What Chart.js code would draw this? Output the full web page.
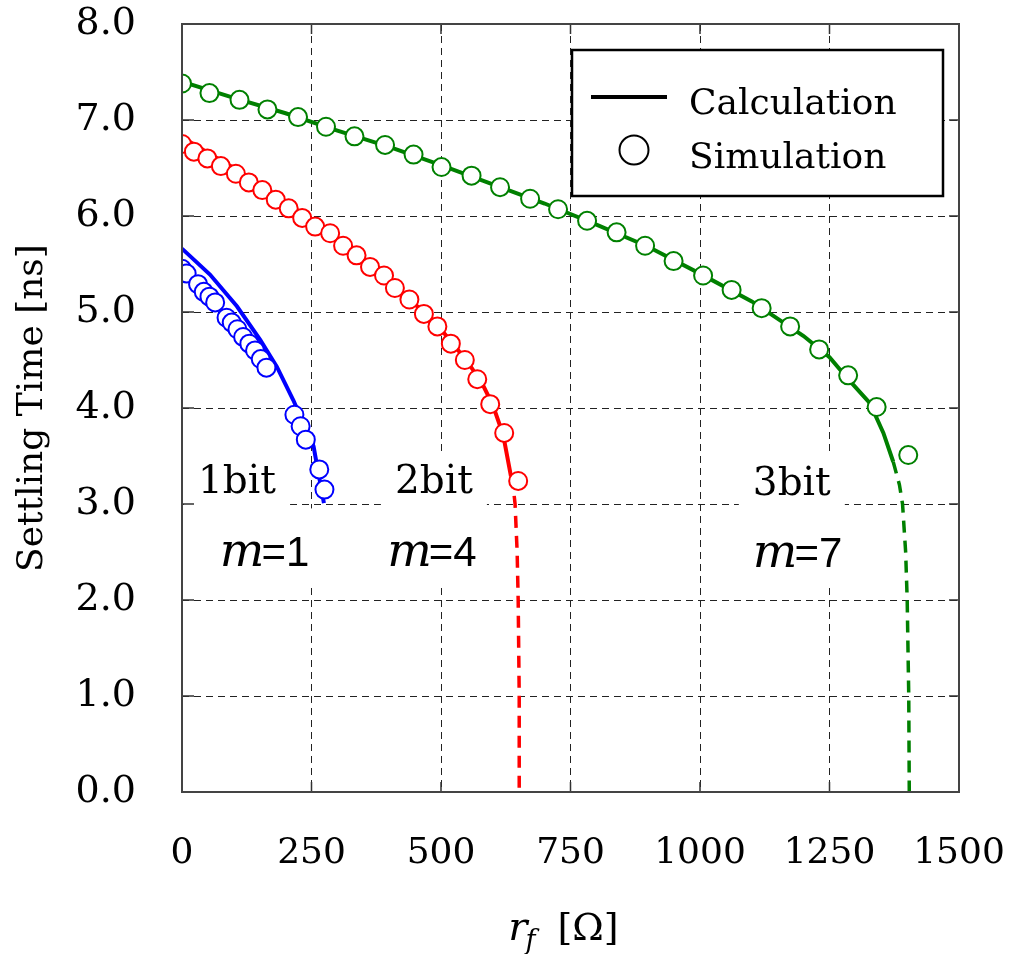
<!DOCTYPE html>
<html>
<head>
<meta charset="utf-8">
<script src="https://cdn.jsdelivr.net/npm/chart.js@4"></script>
<style>
  body { margin: 0; background: #fff; }
</style>
</head>
<body>
<canvas id="settlingChart" width="1010" height="954"></canvas>
<script>
// simulation points (circles)
const sim1X = [0, 9, 31, 42, 53, 64, 86, 96, 107, 118, 130, 141, 152, 163, 217, 229, 239, 265, 275];
const sim1Y = [5.45, 5.40, 5.29, 5.21, 5.16, 5.10, 4.94, 4.89, 4.82, 4.74, 4.67, 4.60, 4.51, 4.42, 3.93, 3.81, 3.67, 3.36, 3.15];
const sim2X = [0, 23, 49, 75, 104, 129, 155, 181, 206, 232, 257, 286, 311, 337, 363, 390, 411, 439, 467, 493, 519, 546, 570, 595, 622, 649];
const sim2Y = [6.75, 6.67, 6.60, 6.52, 6.44, 6.35, 6.27, 6.17, 6.08, 5.98, 5.89, 5.82, 5.69, 5.59, 5.47, 5.38, 5.25, 5.13, 4.98, 4.85, 4.67, 4.50, 4.30, 4.04, 3.74, 3.24];
const sim3X = [0, 53, 111, 165, 224, 278, 333, 392, 447, 501, 559, 614, 672, 726, 782, 839, 894, 949, 1006, 1061, 1119, 1174, 1230, 1286, 1341, 1402];
const sim3Y = [7.38, 7.28, 7.21, 7.11, 7.03, 6.93, 6.83, 6.74, 6.64, 6.51, 6.42, 6.30, 6.18, 6.07, 5.95, 5.83, 5.69, 5.53, 5.38, 5.23, 5.04, 4.85, 4.61, 4.34, 4.01, 3.51];

// calculation curves (solid part, then dashed tail)
const calc1X = [0, 54, 106, 151, 183, 215, 254, 260, 274];
const calc1Y = [5.66, 5.39, 5.06, 4.71, 4.43, 4.08, 3.60, 3.42, 3.01];
const calc2X = [0, 50, 100, 150, 200, 250, 300, 350, 400, 450, 500, 550, 580, 600, 620, 635];
const calc2Y = [6.82, 6.66, 6.50, 6.33, 6.15, 5.95, 5.75, 5.54, 5.32, 5.08, 4.82, 4.49, 4.25, 4.03, 3.72, 3.29];
const tail2X = [635, 640, 643, 647, 649, 651, 651];
const tail2Y = [3.29, 3.15, 3.0, 2.5, 2.0, 1.0, 0];
const calc3X = [0, 100, 200, 300, 400, 500, 600, 700, 800, 900, 1000, 1100, 1200, 1250, 1286, 1328, 1354, 1373];
const calc3Y = [7.40, 7.23, 7.07, 6.89, 6.72, 6.53, 6.33, 6.13, 5.91, 5.68, 5.40, 5.11, 4.75, 4.53, 4.30, 4.05, 3.74, 3.44];
const tail3X = [1373, 1385, 1391, 1397, 1400, 1403, 1404];
const tail3Y = [3.44, 3.2, 3.0, 2.5, 2.0, 1.0, 0];

// text labels inside the plot (data units)
const bitLabels = ['1bit', '2bit', '3bit'];
const bitX = [31, 411, 1102];
const bitY = [3.11, 3.11, 3.09];
const mLabels = ['1', '4', '7'];
const mX = [73, 396, 1102];
const mY = [2.35, 2.35, 2.34];

const BLUE = '#0000ff', RED = '#ff0000', GREEN = '#008000';

const toPts = (xs, ys) => xs.map((v, i) => ({ x: v, y: ys[i] }));

function lineSet(xs, ys, color, dashed) {
    return {
        data: toPts(xs, ys),
        showLine: true,
        borderColor: color,
        borderWidth: dashed ? 3.5 : 4,
        borderDash: dashed ? [12, 8] : [],
        pointRadius: 0,
        fill: false,
        order: 2
    };
}

function simSet(xs, ys, color) {
    return {
        data: toPts(xs, ys),
        showLine: false,
        pointRadius: 9,
        pointBorderWidth: 2,
        pointBorderColor: color,
        pointBackgroundColor: '#fff',
        order: 1
    };
}

const serif = 'DejaVu Serif';

const decorations = {
    id: 'decorations',
    beforeDatasetsDraw(chart) {
        const { ctx, scales: { x, y } } = chart;
        ctx.save();
        ctx.fillStyle = '#fff';
        bitLabels.forEach((t, i) => {
            const px = x.getPixelForValue(bitX[i]);
            const py = y.getPixelForValue(bitY[i]);
            ctx.fillRect(px - 14, py - 40, 106, 56);
        });
        mLabels.forEach((t, i) => {
            const px = x.getPixelForValue(mX[i]);
            const py = y.getPixelForValue(mY[i]);
            ctx.fillRect(px - 10, py - 58, 116, 78);
        });
        ctx.restore();
    },
    afterDatasetsDraw(chart) {
        const { ctx, chartArea: a, scales: { x, y } } = chart;
        ctx.save();

        // frame + inward ticks
        ctx.strokeStyle = '#333';
        ctx.lineWidth = 1.5;
        ctx.beginPath();
        x.ticks.forEach(t => {
            const px = x.getPixelForValue(t.value);
            ctx.moveTo(px, a.bottom); ctx.lineTo(px, a.bottom - 10);
            ctx.moveTo(px, a.top); ctx.lineTo(px, a.top + 10);
        });
        y.ticks.forEach(t => {
            const py = y.getPixelForValue(t.value);
            ctx.moveTo(a.left, py); ctx.lineTo(a.left + 12, py);
            ctx.moveTo(a.right, py); ctx.lineTo(a.right - 10, py);
        });
        ctx.stroke();
        ctx.lineWidth = 2;
        ctx.strokeStyle = '#444';
        ctx.strokeRect(a.left, a.top, a.right - a.left, a.bottom - a.top);

        // bit labels and m= labels
        ctx.fillStyle = '#000';
        ctx.textBaseline = 'alphabetic';
        ctx.textAlign = 'left';
        bitLabels.forEach((t, i) => {
            ctx.font = '39px "' + serif + '"';
            ctx.fillText(t, x.getPixelForValue(bitX[i]), y.getPixelForValue(bitY[i]));
        });
        mLabels.forEach((t, i) => {
            let px = x.getPixelForValue(mX[i]);
            const py = y.getPixelForValue(mY[i]);
            ctx.font = 'italic 47px "' + serif + '"';
            ctx.fillText('m', px, py);
            px += ctx.measureText('m').width - 3;
            ctx.font = '42px "Liberation Sans"';
            ctx.fillText('=' + t, px, py);
        });

        // legend
        const lx = a.right - 387, ly = a.top + 26, lw = 371, lh = 146;
        ctx.fillStyle = '#fff';
        ctx.fillRect(lx, ly, lw, lh);
        ctx.lineWidth = 2.5;
        ctx.strokeStyle = '#000';
        ctx.strokeRect(lx, ly, lw, lh);
        ctx.lineWidth = 4;
        ctx.beginPath();
        ctx.moveTo(lx + 19, ly + 47);
        ctx.lineTo(lx + 95, ly + 47);
        ctx.stroke();
        ctx.lineWidth = 2;
        ctx.beginPath();
        ctx.arc(lx + 62, ly + 100, 14.5, 0, Math.PI * 2);
        ctx.stroke();
        ctx.fillStyle = '#000';
        ctx.font = '36px "' + serif + '"';
        ctx.fillText('Calculation', lx + 117, ly + 64);
        ctx.fillText('Simulation', lx + 117, ly + 118);

        // x axis title: r_f [Ω]
        const cx = (a.left + a.right) / 2 - 7;
        const base = a.bottom + 148;
        ctx.font = 'italic 40px "' + serif + '"';
        const rw = ctx.measureText('r').width;
        ctx.font = 'italic 27px "' + serif + '"';
        const fw = ctx.measureText('f').width;
        ctx.font = '38px "' + serif + '"';
        const bw = ctx.measureText('[Ω]').width;
        let tx = cx - (rw + fw + 20 + bw) / 2;
        ctx.font = 'italic 40px "' + serif + '"';
        ctx.fillText('r', tx, base);
        ctx.font = 'italic 27px "' + serif + '"';
        ctx.fillText('f', tx + rw - 2, base + 9);
        ctx.font = '38px "' + serif + '"';
        ctx.fillText('[Ω]', tx + rw + fw + 20, base);

        ctx.restore();
    }
};

new Chart(document.getElementById('settlingChart'), {
    type: 'scatter',
    data: {
        datasets: [
            lineSet(calc1X, calc1Y, BLUE, false),
            lineSet(calc2X, calc2Y, RED, false),
            lineSet(tail2X, tail2Y, RED, true),
            lineSet(calc3X, calc3Y, GREEN, false),
            lineSet(tail3X, tail3Y, GREEN, true),
            simSet(sim1X, sim1Y, BLUE),
            simSet(sim2X, sim2Y, RED),
            simSet(sim3X, sim3Y, GREEN)
        ]
    },
    options: {
        responsive: false,
        animation: false,
        devicePixelRatio: 1,
        layout: { padding: { left: 0, right: 51, top: 24, bottom: 0 } },
        plugins: {
            legend: { display: false },
            tooltip: { enabled: false }
        },
        scales: {
            x: {
                type: 'linear',
                min: 0,
                max: 1500,
                afterFit: s => {
                    s.height = 162;
                    s.paddingLeft = 0;
                    s.paddingRight = 0;
                },
                border: { display: false, dash: [7, 5] },
                grid: { color: '#222', lineWidth: 1, drawTicks: false },
                ticks: {
                    stepSize: 250,
                    padding: 40,
                    color: '#000',
                    font: { family: serif, size: 36 },
                    maxRotation: 0,
                    callback: v => String(v)
                }
            },
            y: {
                min: 0,
                max: 8,
                afterFit: s => {
                    s.width = 182;
                    s.paddingTop = 0;
                    s.paddingBottom = 0;
                },
                border: { display: false, dash: [7, 5] },
                grid: { color: '#222', lineWidth: 1, drawTicks: false },
                title: {
                    display: true,
                    text: 'Settling Time [ns]',
                    color: '#000',
                    font: { family: serif, size: 36, lineHeight: 1.2 },
                    padding: { top: 11, bottom: 0 }
                },
                ticks: {
                    stepSize: 1,
                    padding: 46,
                    color: '#000',
                    font: { family: serif, size: 38 },
                    callback: v => v.toFixed(1)
                }
            }
        }
    },
    plugins: [decorations]
});
</script>
</body>
</html>
